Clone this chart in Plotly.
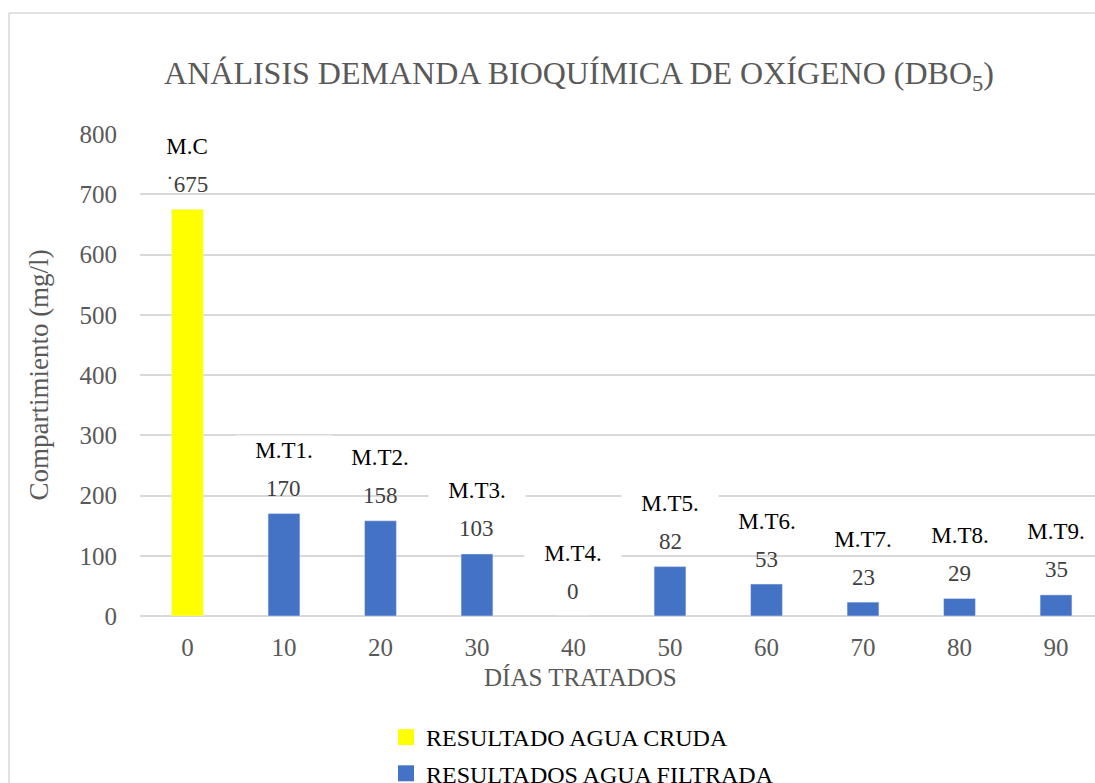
import plotly.graph_objects as go

# ---- data ----
days = ["0", "10", "20", "30", "40", "50", "60", "70", "80", "90"]
crude_days = ["0"]
crude_values = [675]
filtered_days = ["10", "20", "30", "40", "50", "60", "70", "80", "90"]
filtered_values = [170, 158, 103, 0, 82, 53, 23, 29, 35]
crude_names = ["M.C"]
filtered_names = ["M.T1.", "M.T2.", "M.T3.", "M.T4.", "M.T5.", "M.T6.", "M.T7.", "M.T8.", "M.T9."]
y_ticks = [0, 100, 200, 300, 400, 500, 600, 700, 800]

FONT = "Liberation Serif"
YELLOW = "#FFFF00"
BLUE = "#4472C4"
GRID = "#D9D9D9"
TXT = "#595959"

fig = go.Figure()
fig.add_trace(go.Bar(x=crude_days, y=crude_values, marker_color=YELLOW, width=0.33,
                     showlegend=False, name="RESULTADO AGUA CRUDA"))
fig.add_trace(go.Bar(x=filtered_days, y=filtered_values, marker_color=BLUE, width=0.33,
                     showlegend=False, name="RESULTADOS AGUA FILTRADA"))
# legend entries
fig.add_trace(go.Scatter(x=[None], y=[None], mode="markers", name="RESULTADO AGUA CRUDA",
                         legendgroup="a",
                         marker=dict(symbol="square", size=18, color=YELLOW)))
fig.add_trace(go.Scatter(x=[None], y=[None], mode="markers", name="RESULTADOS AGUA FILTRADA",
                         legendgroup="b",
                         marker=dict(symbol="square", size=18, color=BLUE)))

annotations = []
def add_labels(xs, ys, names, value_fmt=lambda v: str(v)):
    for x, v, n in zip(xs, ys, names):
        xi = days.index(x)
        annotations.append(dict(x=xi, y=v, xref="x", yref="y", text=n, showarrow=False,
                                yshift=63, bgcolor="white", width=92, borderpad=2,
                                font=dict(family=FONT, size=23, color="black")))
        annotations.append(dict(x=xi, y=v, xref="x", yref="y", text=value_fmt(v), showarrow=False,
                                yshift=25, font=dict(family=FONT, size=23, color="#404040")))

add_labels(crude_days, crude_values, crude_names, value_fmt=lambda v: "\u02d9" + str(v))
add_labels(filtered_days, filtered_values, filtered_names)

# x axis title
annotations.append(dict(text="DÍAS TRATADOS", xref="paper", yref="paper", x=(580 - 140) / 955,
                        y=(616 - 677) / 482, showarrow=False, xanchor="center", yanchor="middle",
                        font=dict(family=FONT, size=25, color=TXT)))

bx0 = (9 - 140) / 955
by1 = (616 - 13) / 482
by0 = (616 - 783) / 482
border = [
    dict(type="line", xref="paper", yref="paper", x0=bx0, x1=1.0, y0=by1, y1=by1,
         line=dict(color=GRID, width=1.5), layer="below"),
    dict(type="line", xref="paper", yref="paper", x0=bx0, x1=bx0, y0=by0, y1=by1,
         line=dict(color=GRID, width=1.5), layer="below"),
]

fig.update_layout(
    width=1095, height=783,
    margin=dict(l=140, r=0, t=134, b=167, autoexpand=False),
    paper_bgcolor="white", plot_bgcolor="white",
    barmode="overlay",
    font=dict(family=FONT, color=TXT),
    title=dict(text="ANÁLISIS DEMANDA BIOQUÍMICA DE OXÍGENO (DBO<sub>5</sub>)",
               x=579 / 1095, xanchor="center", xref="container",
               y=1 - 73 / 783, yanchor="middle", yref="container",
               font=dict(family=FONT, size=32, color=TXT)),
    xaxis=dict(type="category", categoryorder="array", categoryarray=days,
               range=[-0.492, 9.404], showgrid=False, showline=False, zeroline=False,
               ticks="", tickfont=dict(family=FONT, size=25, color=TXT),
               ticklabelstandoff=14),
    yaxis=dict(range=[0, 800], tickvals=y_ticks, showgrid=True, gridcolor=GRID, gridwidth=1.5,
               zeroline=True, zerolinecolor=GRID, zerolinewidth=1.5, showline=False, ticks="",
               tickfont=dict(family=FONT, size=25, color=TXT), ticklabelstandoff=22,
               title=dict(text="Compartimiento (mg/l)", standoff=23,
                          font=dict(family=FONT, size=27, color=TXT))),
    legend=dict(orientation="v", x=(386 - 140) / 955, xanchor="left", y=(616 - 715) / 482,
                yanchor="top", tracegroupgap=2,
                font=dict(family=FONT, size=24, color="black"), bgcolor="rgba(0,0,0,0)",
                itemclick=False),
    annotations=annotations,
    shapes=border,
)

fig.write_html("out.html", config={"displayModeBar": False},
               post_script="document.body.style.margin='0';document.body.style.overflow='hidden';")
